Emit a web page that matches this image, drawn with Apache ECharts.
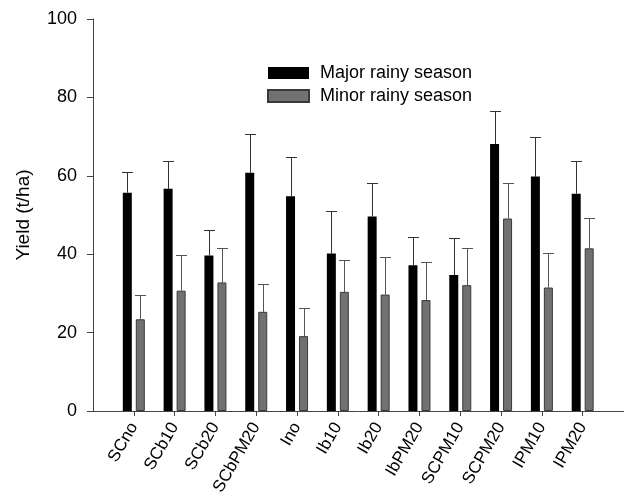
<!DOCTYPE html>
<html>
<head>
<meta charset="utf-8">
<script src="https://cdn.jsdelivr.net/npm/echarts@6/dist/echarts.min.js"></script>
<style>
html,body{margin:0;padding:0;background:#fff;}
#chart{width:625px;height:501px;}
</style>
</head>
<body>
<div id="chart"></div>
<script>
const categories = ['SCno','SCb10','SCb20','SCbPM20','Ino','Ib10','Ib20','IbPM20','SCPM10','SCPM20','IPM10','IPM20'];
const majorMean = [55.7,56.7,39.7,60.8,54.8,40.2,49.6,37.2,34.7,68.1,59.8,55.4];
const majorErr  = [5.3,7.0,6.5,9.9,9.9,10.9,8.6,7.3,9.5,8.4,10.2,8.5];
const minorMean = [23.4,30.7,32.8,25.3,19.1,30.4,29.7,28.3,32.1,49.1,31.5,41.5];
const minorErr  = [6.3,9.1,8.7,7.2,7.1,8.1,9.7,9.6,9.5,9.1,8.9,7.8];
const yTicks = [0,20,40,60,80,100];
const seriesNames = ['Major rainy season','Minor rainy season'];

const FONT = 'Liberation Sans, Arial, sans-serif';
const BAR_W = 9;
const GAP = 4;
const OFF = (BAR_W + GAP) / 2;

const axisCats = [''].concat(categories, ['']);
const pad = arr => [null].concat(arr, [null]);
const lastIdx = axisCats.length - 1;

function errRender(offset, color) {
  return function (params, api) {
    const x = api.value(0), m = api.value(1), e = api.value(2);
    const p0 = api.coord([x, m]);
    const p1 = api.coord([x, m + e]);
    const cx = Math.round(p0[0] + offset) + 0.5;
    const ty = Math.round(p1[1]) + 0.5;
    const st = { stroke: color, lineWidth: 1 };
    return {
      type: 'group',
      children: [
        { type: 'line', shape: { x1: cx, y1: p0[1], x2: cx, y2: ty }, style: st },
        { type: 'line', shape: { x1: cx - 5.5, y1: ty, x2: cx + 5.5, y2: ty }, style: st }
      ]
    };
  };
}

const chart = echarts.init(document.getElementById('chart'), null, { renderer: 'canvas' });
chart.setOption({
  animation: false,
  backgroundColor: '#fff',
  grid: { left: 93, top: 19, bottom: 90, right: -14, containLabel: false },
  legend: {
    orient: 'vertical', left: 267, top: 64, padding: 0,
    icon: 'rect',
    itemWidth: 41, itemHeight: 12, itemGap: 5,
    data: seriesNames,
    textStyle: { fontFamily: FONT, fontSize: 18, color: '#000', padding: [0, 0, 0, 6] }
  },
  xAxis: {
    type: 'category', data: axisCats, boundaryGap: false,
    axisLine: { lineStyle: { color: '#444', width: 1 } },
    axisTick: { length: 5, lineStyle: { color: '#444' }, interval: (i) => i > 0 && i < lastIdx },
    axisLabel: { interval: 0, rotate: 60, margin: 13, fontFamily: FONT, fontSize: 17, color: '#000' },
    splitLine: { show: false }
  },
  yAxis: {
    type: 'value', min: yTicks[0], max: yTicks[yTicks.length - 1], interval: yTicks[1] - yTicks[0],
    name: 'Yield (t/ha)', nameLocation: 'middle', nameGap: 60,
    nameTextStyle: { fontFamily: FONT, fontSize: 19, color: '#000' },
    axisLine: { show: true, lineStyle: { color: '#444', width: 1 } },
    axisTick: { show: true, length: 6, lineStyle: { color: '#444' } },
    axisLabel: { margin: 16, fontFamily: FONT, fontSize: 18, color: '#000' },
    splitLine: { show: false }
  },
  series: [
    {
      name: seriesNames[0], type: 'bar', data: pad(majorMean),
      barWidth: BAR_W, barGap: (GAP / BAR_W * 100) + '%',
      itemStyle: { color: '#000', borderColor: '#000', borderWidth: 0 }
    },
    {
      name: seriesNames[1], type: 'bar', data: pad(minorMean),
      barWidth: BAR_W,
      itemStyle: { color: '#717171', borderColor: '#3a3a3a', borderWidth: 1 }
    },
    {
      type: 'custom', name: 'errMajor', z: 1,
      renderItem: errRender(-OFF, '#333'),
      data: majorMean.map((v, i) => [i + 1, v, majorErr[i]]),
      encode: { x: 0, y: 1 }
    },
    {
      type: 'custom', name: 'errMinor', z: 1,
      renderItem: errRender(OFF, '#555'),
      data: minorMean.map((v, i) => [i + 1, v, minorErr[i]]),
      encode: { x: 0, y: 1 }
    }
  ]
});
</script>
</body>
</html>
